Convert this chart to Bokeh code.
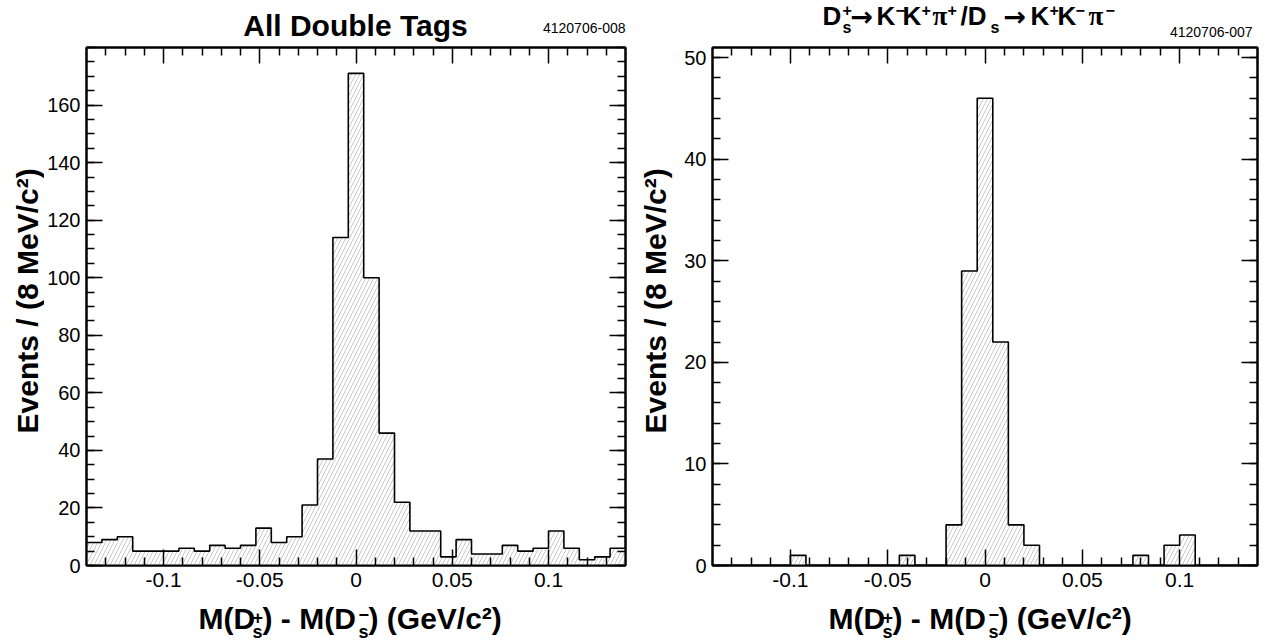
import math
from bokeh.plotting import figure
from bokeh.models import Range1d, FixedTicker, LinearAxis
from bokeh.layouts import row, column
from bokeh.core.properties import value
from bokeh.embed import file_html
from bokeh.resources import INLINE

# ---------------- data ----------------
bin_width = 0.008
x_low = -0.14
x_high = 0.14
counts_all = [8, 9, 10, 5, 5, 5, 6, 5, 7, 6, 7, 13, 8, 10, 21, 37, 114, 171, 100, 46,
              22, 12, 12, 3, 9, 4, 4, 7, 5, 6, 12, 6, 2, 3, 6]
counts_kkpi = [0, 0, 0, 0, 0, 1, 0, 0, 0, 0, 0, 0, 1, 0, 0, 4, 29, 46, 22, 4,
               2, 0, 0, 0, 0, 0, 0, 1, 0, 2, 3, 0, 0, 0, 0]
x_tick_values = [-0.1, -0.05, 0, 0.05, 0.1]
x_tick_labels = ["-0.1", "-0.05", "0", "0.05", "0.1"]
x_minor_values = [-0.13, -0.12, -0.11, -0.09, -0.08, -0.07, -0.06, -0.04, -0.03, -0.02, -0.01,
                  0.01, 0.02, 0.03, 0.04, 0.06, 0.07, 0.08, 0.09, 0.11, 0.12, 0.13]
y_ticks_all = [0, 20, 40, 60, 80, 100, 120, 140, 160]
y_minor_all = list(range(0, 181, 5))
y_ticks_kkpi = [0, 10, 20, 30, 40, 50]
y_minor_kkpi = list(range(0, 51, 2))
y_max_all = 180
y_max_kkpi = 51
title_left = "All Double Tags"
run_left = "4120706-008"
run_right = "4120706-007"
y_title = "Events / (8 MeV/c\u00b2)"

FONT = "Liberation Sans"
ARROW_FONT = "DejaVu Sans"
PI_FONT = "Liberation Serif"
W = 1266
H = 644
TOP_H = 43          # title band
BOT_H = 47          # x-label band
MID_H = H - TOP_H - BOT_H
FRAME_TOP = 47
FRAME_BOTTOM = 565
MID = 0.35          # distance of the "middle" baseline above the alphabetic one (em)


def band(width, height):
    p = figure(width=width, height=height, output_backend="svg", toolbar_location=None,
               x_range=Range1d(0, width), y_range=Range1d(0, height),
               min_border=0, x_axis_location=None, y_axis_location=None)
    p.xgrid.visible = False
    p.ygrid.visible = False
    p.outline_line_color = None
    p.background_fill_color = "white"
    p.border_fill_color = "white"
    return p


def put(p, ox, oy, height, cx, cy, text, size, bold=True, align="left", angle=0.0, font=FONT):
    # cx, cy: page pixel coordinates of the text's alphabetic baseline anchor
    if angle == 0.0:
        cy = cy - MID * size
    else:
        cx = cx - MID * size
    p.text(x=[cx - ox], y=[height - (cy - oy)], text=[text], angle=angle,
           text_font=value(font), text_font_size=f"{size}px",
           text_font_style="bold" if bold else "normal",
           text_align=align, text_baseline="middle", text_color="black")


def make_fig(width, bl, br, counts, ymax, yticks, yminor):
    p = figure(width=width, height=MID_H, output_backend="svg", toolbar_location=None,
               x_range=Range1d(x_low, x_high), y_range=Range1d(0, ymax),
               min_border_left=bl, min_border_right=br,
               min_border_top=FRAME_TOP - TOP_H, min_border_bottom=TOP_H + MID_H - FRAME_BOTTOM,
               x_axis_location=None, y_axis_location=None)
    p.background_fill_color = "white"
    p.border_fill_color = "white"
    p.xgrid.visible = False
    p.ygrid.visible = False
    p.outline_line_color = "black"
    p.outline_line_width = 2

    edges = [x_low + i * bin_width for i in range(len(counts) + 1)]
    p.quad(left=edges[:-1], right=edges[1:], bottom=[0] * len(counts), top=counts,
           fill_color="white", line_color=None,
           hatch_pattern="/", hatch_color="#b0b0b0", hatch_scale=8, hatch_weight=0.7)
    xs, ys = [edges[0]], [0]
    for i, c in enumerate(counts):
        xs += [edges[i], edges[i + 1]]
        ys += [c, c]
    xs.append(edges[-1])
    ys.append(0)
    p.line(xs, ys, line_color="black", line_width=1.6)

    xt = FixedTicker(ticks=x_tick_values, minor_ticks=x_minor_values)
    yt = FixedTicker(ticks=yticks, minor_ticks=yminor)
    for loc, is_x, labels in (("below", True, True), ("above", True, False),
                              ("left", False, True), ("right", False, False)):
        ax = LinearAxis(ticker=xt if is_x else yt)
        ax.axis_line_color = "black"
        ax.axis_line_width = 2
        ax.major_tick_in = 16
        ax.major_tick_out = 0
        ax.minor_tick_in = 8
        ax.minor_tick_out = 0
        ax.major_tick_line_width = 1.5
        ax.minor_tick_line_width = 1.5
        ax.major_tick_line_color = "black"
        ax.minor_tick_line_color = "black"
        ax.major_label_text_font = FONT
        ax.major_label_text_color = "black"
        if labels:
            ax.major_label_text_font_size = "21px" if is_x else "20px"
            ax.major_label_standoff = 7 if is_x else 6
            if is_x:
                ax.major_label_overrides = dict(zip(x_tick_values, x_tick_labels))
            else:
                ax.major_label_overrides = {v: str(v) for v in yticks}
        else:
            ax.major_label_text_font_size = "0px"
            ax.major_label_standoff = 0
            ax.major_label_overrides = {v: "" for v in (x_tick_values if is_x else yticks)}
        p.add_layout(ax, loc)
    return p


# ---------------- layout pieces ----------------
YL1_W = 44
YL2_W = 45
top = band(W, TOP_H)
bottom = band(W, BOT_H)
ylab1 = band(YL1_W, MID_H)
ylab2 = band(YL2_W, MID_H)
p1 = make_fig(591, 41, 10, counts_all, y_max_all, y_ticks_all, y_minor_all)
p2 = make_fig(586, 32, 9, counts_kkpi, y_max_kkpi, y_ticks_kkpi, y_minor_kkpi)
YL2_X = YL1_W + 591


def t_top(cx, cy, text, size, bold=True, align="left", font=FONT):
    put(top, 0, 0, TOP_H, cx, cy, text, size, bold, align, 0.0, font)


def t_bot(cx, cy, text, size, bold=True, align="left"):
    put(bottom, 0, TOP_H + MID_H, BOT_H, cx, cy, text, size, bold, align)


# titles
t_top(355, 35, title_left, 30, align="center")
t_top(625, 32, run_left, 14, bold=False, align="right")
tb = 24.5
sup = 15.5
sub = 33
arr = 25.2
t_top(822, tb, "D", 26)
t_top(842, sup, "+", 16)
t_top(842, sub, "s", 16)
t_top(850, arr, "\u2192", 27, font=ARROW_FONT)
t_top(876, tb, "K", 26)
t_top(895, sup, "\u2212", 16)
t_top(902, tb, "K", 26)
t_top(921, sup, "+", 16)
t_top(932, tb, "\u03c0", 27, font=PI_FONT)
t_top(947, sup, "+", 16)
t_top(960, tb, "/D", 26)
t_top(990, sub, "s", 16)
t_top(1003, arr, "\u2192", 27, font=ARROW_FONT)
t_top(1030, tb, "K", 26)
t_top(1049, sup, "+", 16)
t_top(1057, tb, "K", 26)
t_top(1075, sup, "\u2212", 16)
t_top(1088, tb, "\u03c0", 27, font=PI_FONT)
t_top(1105, sup, "\u2212", 16)
t_top(1252, 36, run_right, 14, bold=False, align="right")

# y labels
put(ylab1, 0, TOP_H, MID_H, 37, 314, y_title, 30, True, "center", math.pi / 2)
put(ylab2, YL2_X, TOP_H, MID_H, 665, 314, y_title, 30, True, "center", math.pi / 2)


# x labels
def xlabel(start):
    base = 628
    t_bot(start, base, "M(D", 30)
    t_bot(start + 54, 623, "+", 18)
    t_bot(start + 54, 638, "s", 18)
    t_bot(start + 64, base, ") - M(D", 30)
    t_bot(start + 160, 620, "\u2212", 18)
    t_bot(start + 160, 638, "s", 18)
    t_bot(start + 170, base, ") (GeV/c\u00b2)", 30)


xlabel(198)
xlabel(828)

layout = column(top, row(ylab1, p1, ylab2, p2), bottom)
open("out.html", "w").write(file_html(layout, INLINE))
